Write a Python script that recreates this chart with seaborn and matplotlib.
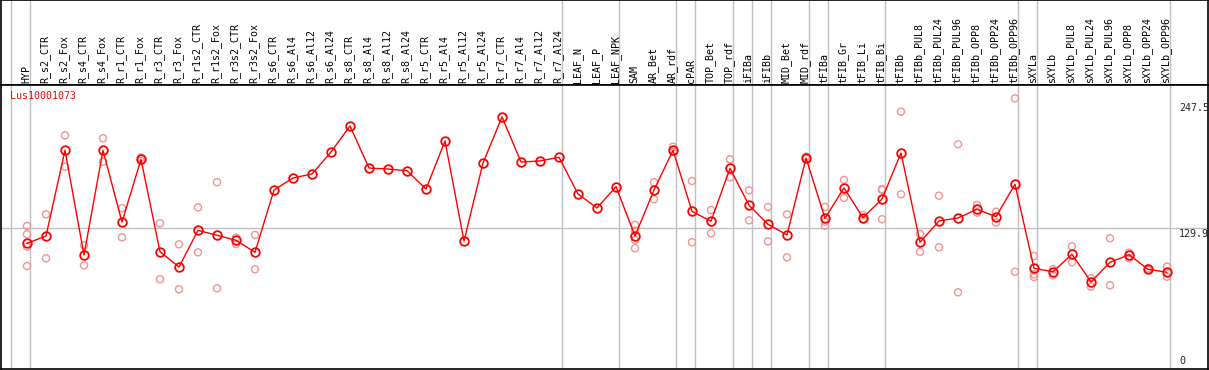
import numpy as np
import pandas as pd
import matplotlib
matplotlib.use('Agg')
import matplotlib.pyplot as plt
import seaborn as sns

# %%
# Dados
gene = 'Lus10001073'

amostras = ['HYP', 'R_s2_CTR', 'R_s2_Fox', 'R_s4_CTR', 'R_s4_Fox', 'R_r1_CTR', 'R_r1_Fox',
            'R_r3_CTR', 'R_r3_Fox', 'R_r1s2_CTR', 'R_r1s2_Fox', 'R_r3s2_CTR', 'R_r3s2_Fox',
            'R_s6_CTR', 'R_s6_Al4', 'R_s6_Al12', 'R_s6_Al24', 'R_s8_CTR', 'R_s8_Al4',
            'R_s8_Al12', 'R_s8_Al24', 'R_r5_CTR', 'R_r5_Al4', 'R_r5_Al12', 'R_r5_Al24',
            'R_r7_CTR', 'R_r7_Al4', 'R_r7_Al12', 'R_r7_Al24', 'LEAF_N', 'LEAF_P', 'LEAF_NPK',
            'SAM', 'AR_Bet', 'AR_rdf', 'cPAR', 'TOP_Bet', 'TOP_rdf', 'iFIBa', 'iFIBb',
            'MID_Bet', 'MID_rdf', 'tFIBa', 'tFIB_Gr', 'tFIB_Li', 'tFIB_Bi', 'tFIBb',
            'tFIBb_PUL8', 'tFIBb_PUL24', 'tFIBb_PUL96', 'tFIBb_OPP8', 'tFIBb_OPP24',
            'tFIBb_OPP96', 'sXYLa', 'sXYLb', 'sXYLb_PUL8', 'sXYLb_PUL24', 'sXYLb_PUL96',
            'sXYLb_OPP8', 'sXYLb_OPP24', 'sXYLb_OPP96']

media = [115.6, 122.4, 202.1, 104.8, 202.1, 135.4, 193.7, 107.8, 93.6, 127.7, 123.1,
         118.4, 107.3, 165.2, 176.4, 180.1, 200.5, 224.7, 185.6, 184.7, 183.1, 166.1,
         210.7, 117.8, 190.3, 233.1, 191.2, 192.2, 195.6, 161.5, 148.5, 168.3,
         122.4, 165.2, 202.1, 145.4, 136.1, 185.4, 151.0, 133.3, 123.4, 194.9,
         138.9, 167.1, 139.4, 156.8, 199.6, 116.6, 136.4, 139.2, 147.3, 140.4, 170.5,
         92.4, 89.2, 105.4, 79.7, 98.0, 105.0, 91.5, 88.7]

replicas = [[131.7, 124.0, 112.5, 94.5], [142.6, 101.7], [216.0, 186.9], [113.8, 95.2],
            [213.3, 191.5], [148.2, 121.2], [195.4, 192.2], [134.2, 82.2], [114.7, 72.9],
            [149.1, 107.3], [172.4, 73.8], [120.9, 115.0], [123.4, 91.5],
            [], [], [], [], [], [], [], [], [], [], [], [], [], [], [], [], [], [], [],
            [132.7, 127.4, 118.7, 111.0], [172.4, 156.6], [205.4, 200.8], [173.6, 116.6],
            [146.6, 124.9], [193.7, 177.0], [164.9, 137.0], [149.4, 117.5], [142.6, 102.6],
            [196.2, 194.3], [149.4, 135.7, 132.0], [174.5, 157.8], [142.0, 138.0],
            [166.1, 165.2, 138.0], [238.0, 161.2], [124.3, 107.8], [159.9, 111.9],
            [207.7, 70.1], [151.3, 144.1], [145.0, 134.8], [250.4, 89.2],
            [103.8, 86.8, 84.3], [91.5, 85.9], [112.9, 98.0], [83.1, 75.3], [120.3, 76.6],
            [106.9, 101.7], [92.4, 90.8], [93.9, 84.6]]

# colunas depois das quais vem uma linha de separação
separadores = [-1, 0, 28, 31, 34, 35, 37, 38, 39, 41, 42, 45, 52, 53, 60]

marcas_y = [247.5, 129.9, 0]

# %%
pos = np.arange(len(amostras))
df_rep = pd.DataFrame([(i, v) for i, reps in enumerate(replicas) for v in reps],
                      columns=['pos', 'valor'])

sns.set_style('white')
plt.rcParams['font.family'] = ['DejaVu Sans Mono']

W, H = 1209, 370
fig = plt.figure(figsize=(W / 100, H / 100), dpi=100)
ax_top = fig.add_axes([1 / W, (H - 85) / H, 1207 / W, 85 / H])
ax = fig.add_axes([1 / W, (H - 369) / H, 1207 / W, 284 / H])

xlim = ((1 - 27) / 19, (1208 - 27) / 19)
cinza = '#C0C0C0'

for a in (ax, ax_top):
    a.set_xlim(*xlim)
    for s in separadores:
        a.axvline(s + 0.16, color=cinza, lw=1, zorder=0)
    for sp in a.spines.values():
        sp.set_color('black')
        sp.set_linewidth(1.2)
    a.set_xticks([])
    a.set_yticks([])

ax_top.set_ylim(0, 1)
for i, nome in enumerate(amostras):
    ax_top.text(i - 0.05, 2 / 85, nome, rotation=90, ha='center', va='bottom',
                fontsize=7.2, color='black')

ax.set_ylim(-1.2, 262.8)
ax.axhline(129.9, color=cinza, lw=1, zorder=0)

sns.scatterplot(data=df_rep, x='pos', y='valor', ax=ax, marker='o', s=26,
                facecolor='none', edgecolor='#F09494', linewidth=1.0, zorder=2)
sns.lineplot(x=pos, y=media, ax=ax, color='red', lw=1, marker='o', ms=6.2,
             mfc='none', mec='red', mew=1.3, zorder=3)

ax.set_xlabel('')
ax.set_ylabel('')

ax.text(0.0075, 0.978, gene, transform=ax.transAxes, color='red', fontsize=7.2,
        ha='left', va='top')

for v in marcas_y:
    if v == 0:
        ax.annotate('0', (60.63, v), xytext=(0, 2), textcoords='offset pixels',
                    ha='left', va='bottom', fontsize=7.2, annotation_clip=False)
    else:
        ax.annotate(f'{v}', (60.63, v), xytext=(0, -1.5), textcoords='offset pixels',
                    ha='left', va='top', fontsize=7.2, annotation_clip=False)

fig.savefig('out.png', dpi=100)
